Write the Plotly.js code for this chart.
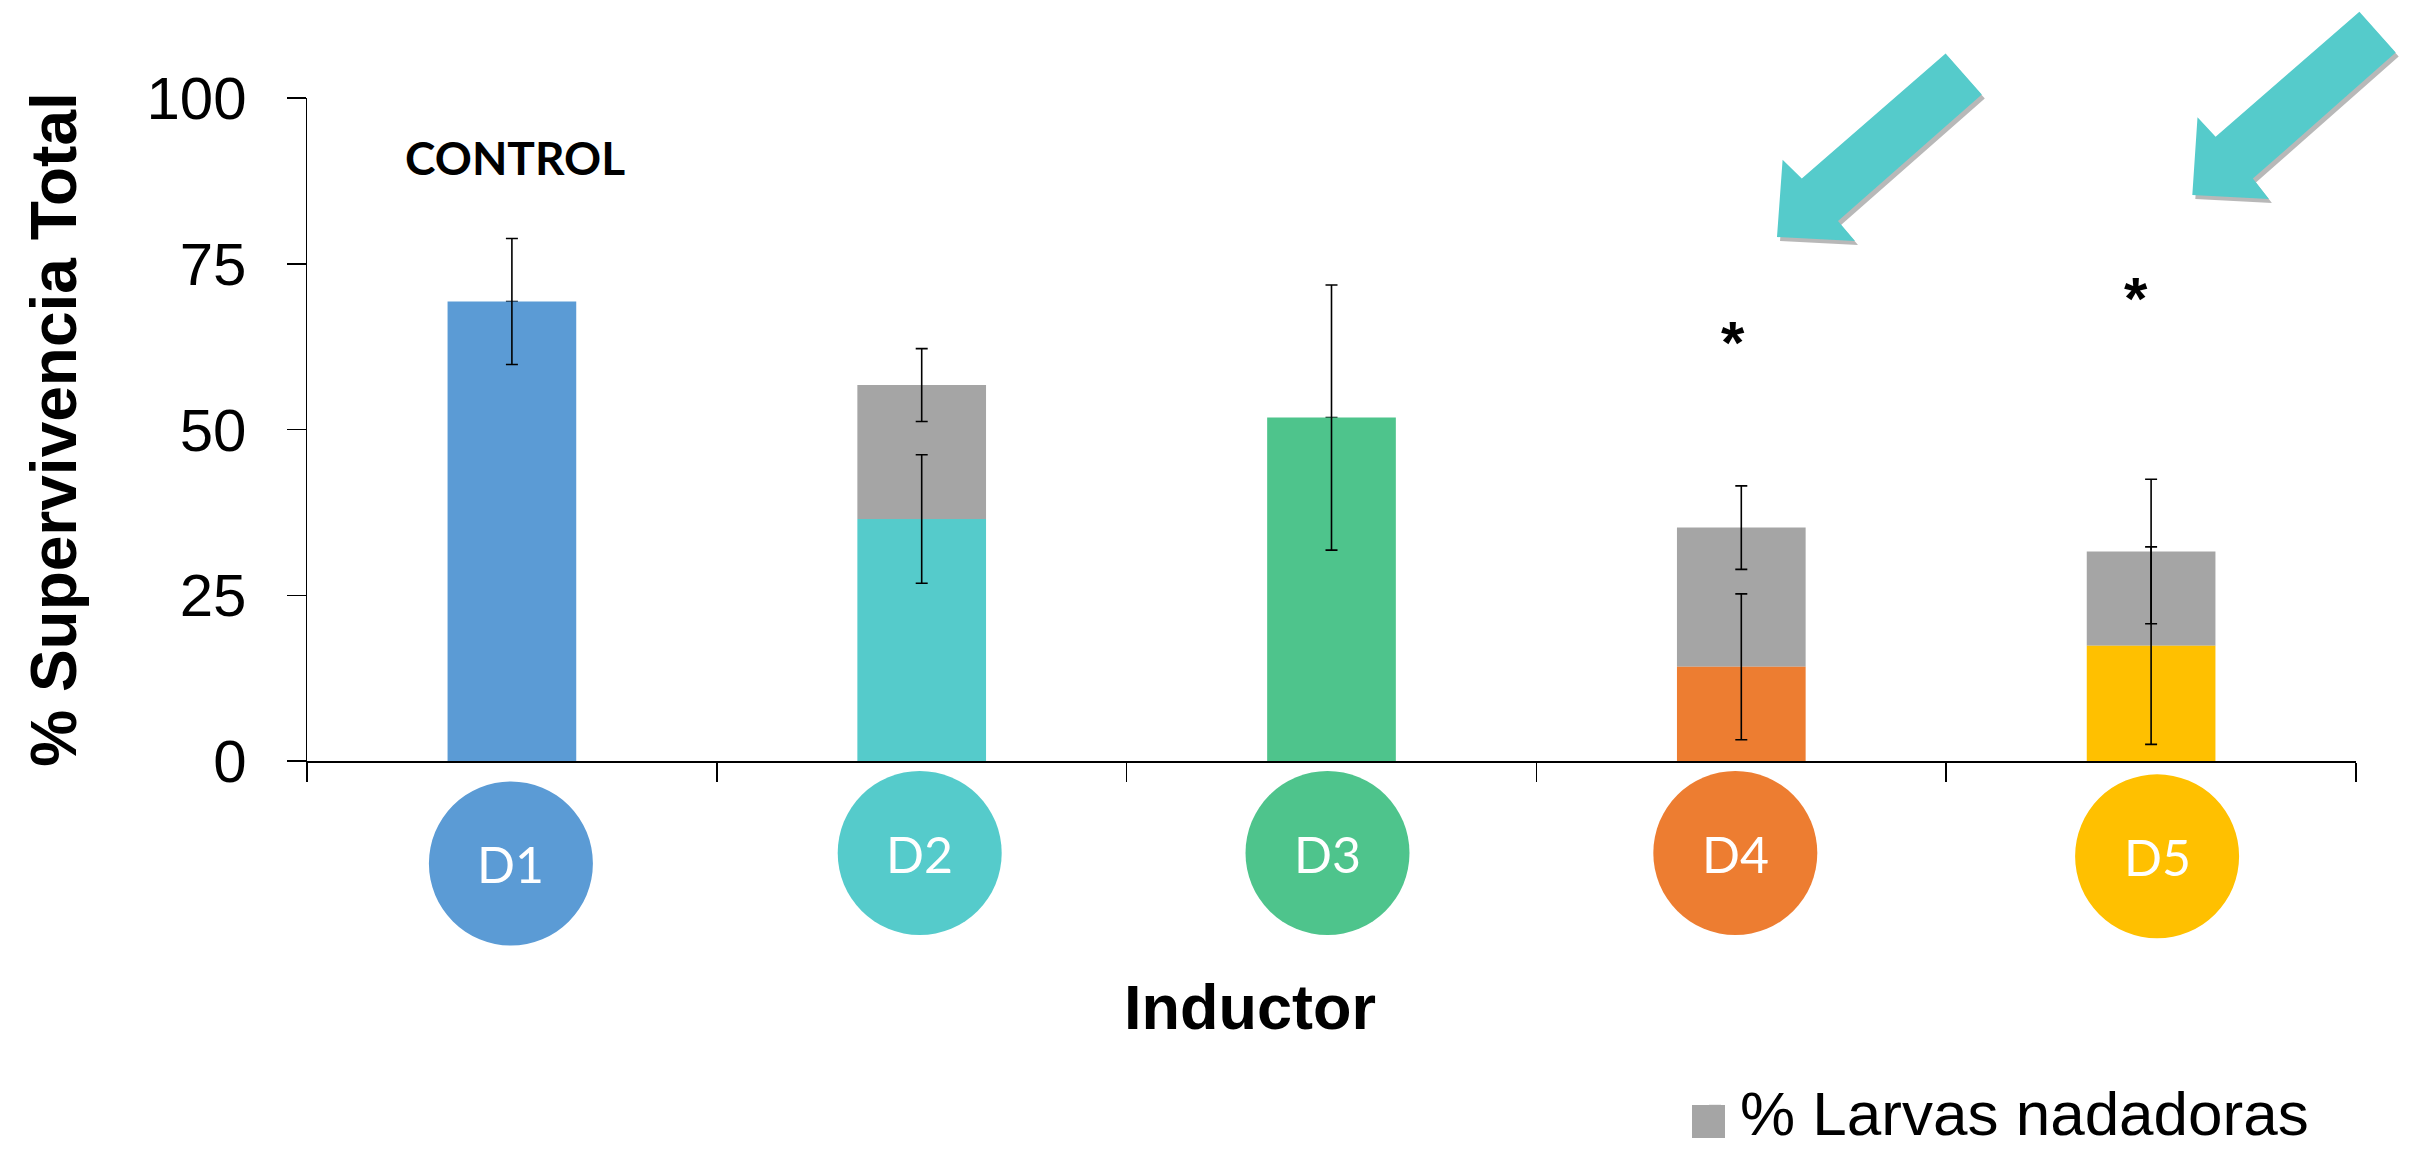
<!DOCTYPE html>
<html><head><meta charset="utf-8">
<script src="https://cdn.plot.ly/plotly-3.0.1.min.js"></script>
<style>html,body{margin:0;padding:0;background:#fff;}</style>
</head><body><div id="chart" style="width:2411px;height:1149px;"></div>
<script>
// ---- data ----
const categories = ['D1', 'D2', 'D3', 'D4', 'D5'];
const inductorValues = [69.3, 36.5, 51.8, 14.2, 17.4];
const inductorErrors = [9.5, 9.7, 20.0, 11.0, 14.9];
const larvasValues = [0, 20.2, 0, 21.0, 14.2];
const larvasErrors = [0, 5.5, 0, 6.3, 10.9];
const yTickVals = [0, 25, 50, 75, 100];
const significant = ['D4', 'D5'];
const controlCategory = 'D1';

// ---- styling / geometry ----
const inductorColors = ['#5B9BD5', '#55CBCB', '#4EC48C', '#ED7D31', '#FFC000'];
const grayColor = '#A5A5A5';
const arrowColor = '#55CBCB';
const W = 2411, H = 1149;
const M = {l: 307, r: 55, t: 98, b: 388, autoexpand: false};
const PW = W - M.l - M.r, PH = H - M.t - M.b;
const px2x = px => (px - M.l) / PW;
const py2y = py => (H - M.b - py) / PH;

const circleCenterPy = [863.5, 853, 853, 853, 856.3];
const circleCenterDx = [-1, -2, -4, -6, 6];
const circleR = 82;
const starPos = {D4: {py: 342, dx: -8}, D5: {py: 298, dx: -15}};

const arrows = [
  [[1945.6,53.6],[1981.8,94.4],[1838,221],[1855,241],[1777,237],[1782.6,159.7],[1801.8,178.6]],
  [[2359.4,11.7],[2395.7,52.6],[2252.9,178.6],[2268.9,199],[2192.3,194.9],[2197.5,117.3],[2215.6,136.7]]
];
function arrowPath(pts, dx, dy) {
  return pts.map((p, i) => (i ? 'L' : 'M') + px2x(p[0] + dx).toFixed(5) + ',' + py2y(p[1] + dy).toFixed(5)).join(' ') + ' Z';
}

const barWidth = 0.314;

const traces = [
  {
    type: 'bar', name: '% Larvas nadadoras',
    x: categories, y: larvasValues, base: inductorValues,
    width: barWidth,
    marker: {color: grayColor},
    error_y: {type: 'data', array: larvasErrors, visible: true, color: '#000', thickness: 1.6, width: 6},
    showlegend: true, hoverinfo: 'skip'
  },
  {
    type: 'bar', name: 'Inductor',
    x: categories, y: inductorValues,
    width: barWidth,
    marker: {color: inductorColors},
    error_y: {type: 'data', array: inductorErrors, visible: true, color: '#000', thickness: 1.6, width: 6},
    showlegend: false, hoverinfo: 'skip'
  }
];

const shapes = [];
arrows.forEach(pts => {
  shapes.push({type: 'path', xref: 'paper', yref: 'paper', path: arrowPath(pts, 3, 4),
    fillcolor: 'rgba(0,0,0,0.28)', line: {width: 0}});
  shapes.push({type: 'path', xref: 'paper', yref: 'paper', path: arrowPath(pts, 0, 0),
    fillcolor: arrowColor, line: {width: 0}});
});
// category badges (circles) under the axis
categories.forEach((c, i) => {
  shapes.push({type: 'circle', xref: 'x', yref: 'paper',
    xsizemode: 'pixel', ysizemode: 'pixel', xanchor: i, yanchor: py2y(circleCenterPy[i]),
    x0: circleCenterDx[i] - circleR, x1: circleCenterDx[i] + circleR, y0: -circleR, y1: circleR,
    fillcolor: inductorColors[i], line: {width: 0}});
});
// enlarged legend swatch
shapes.push({type: 'rect', xref: 'paper', yref: 'paper',
  x0: px2x(1692), x1: px2x(1725), y0: py2y(1138), y1: py2y(1105),
  fillcolor: grayColor, line: {width: 0}});

const annotations = [
  {text: '<b>CONTROL</b>', xref: 'x', yref: 'paper', x: controlCategory, y: py2y(157), xshift: 3,
   showarrow: false, xanchor: 'center', yanchor: 'middle',
   font: {family: 'Lato, "Open Sans", sans-serif', size: 46, color: '#000'}},
  {text: '<b>Inductor</b>', xref: 'paper', yref: 'paper', x: px2x(1250), y: py2y(1007),
   showarrow: false, xanchor: 'center', yanchor: 'middle',
   font: {family: '"Liberation Sans", Arial, sans-serif', size: 63, color: '#000'}}
];
categories.forEach((c, i) => {
  annotations.push({text: c, xref: 'x', yref: 'paper', x: c, y: py2y(circleCenterPy[i] + 1),
    xshift: circleCenterDx[i], showarrow: false, xanchor: 'center', yanchor: 'middle',
    font: {family: 'Lato, "Open Sans", sans-serif', size: 50, color: '#fff'}});
});
significant.forEach(c => {
  annotations.push({text: '<b>*</b>', xref: 'x', yref: 'paper', x: c, y: py2y(starPos[c].py),
    xshift: starPos[c].dx, showarrow: false, xanchor: 'center', yanchor: 'middle',
    font: {family: '"Liberation Sans", Arial, sans-serif', size: 60, color: '#000'}});
});

const layout = {
  width: W, height: H, autosize: false,
  margin: M,
  paper_bgcolor: '#fff', plot_bgcolor: '#fff',
  font: {family: '"Liberation Sans", Arial, sans-serif', color: '#000'},
  barmode: 'overlay',
  xaxis: {
    type: 'category', range: [-0.5, 4.5], fixedrange: true, automargin: false,
    showticklabels: false, tickson: 'boundaries', ticks: 'outside', ticklen: 19, tickwidth: 1.5, tickcolor: '#000',
    showline: true, linecolor: '#000', linewidth: 2, showgrid: false, zeroline: false
  },
  yaxis: {
    range: [0, 100], fixedrange: true, automargin: false,
    tickmode: 'array', tickvals: yTickVals, ticktext: yTickVals.map(String),
    ticks: 'outside', ticklen: 19, tickwidth: 1.5, tickcolor: '#000',
    ticklabelstandoff: 28,
    tickfont: {size: 60, color: '#000'},
    showline: true, linecolor: '#000', linewidth: 1.5, showgrid: false, zeroline: false,
    title: {text: '<b>% Supervivencia Total</b>', font: {size: 64, color: '#000'}, standoff: 49}
  },
  showlegend: true,
  legend: {
    x: px2x(1690), y: py2y(1064), xanchor: 'left', yanchor: 'top',
    font: {size: 62, color: '#000'}, itemwidth: 40, bgcolor: 'rgba(0,0,0,0)', borderwidth: 0
  },
  shapes: shapes,
  annotations: annotations
};

Plotly.newPlot('chart', traces, layout, {displayModeBar: false, staticPlot: true});
</script>
</body></html>
